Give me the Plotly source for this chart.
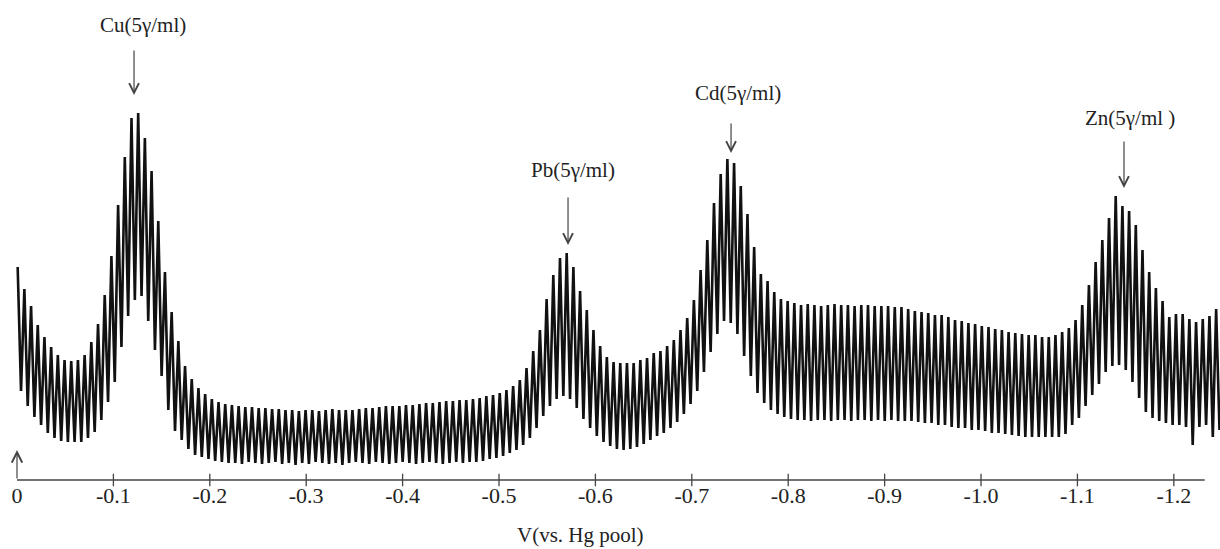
import plotly.graph_objects as go

# Polarogram: current at the top and bottom of every mercury drop (arbitrary units)
i_top = [
    21.3, 19.1, 17.4, 15.5, 14.3, 13.3, 12.5, 12.0, 11.9, 12.0,
    12.5, 13.8, 15.6, 18.5, 22.4, 27.5, 32.3, 36.2, 36.7, 34.2,
    30.9, 25.9, 20.8, 16.8, 13.9, 11.4, 10.1, 9.2, 8.6, 8.1,
    7.8, 7.6, 7.5, 7.4, 7.3, 7.3, 7.2, 7.2, 7.1, 7.1,
    7.0, 7.0, 6.9, 7.0, 7.0, 6.9, 7.0, 7.1, 7.0, 7.0,
    7.0, 7.1, 7.2, 7.2, 7.3, 7.4, 7.4, 7.4, 7.5, 7.5,
    7.6, 7.7, 7.7, 7.8, 7.9, 7.9, 8.0, 8.0, 8.1, 8.2,
    8.4, 8.5, 8.7, 9.0, 9.4, 10.0, 11.2, 12.9, 15.0, 18.1,
    20.5, 22.2, 22.7, 21.3, 18.9, 17.0, 15.0, 13.4, 12.3, 11.8,
    11.7, 11.7, 11.7, 12.0, 12.2, 12.7, 12.9, 13.4, 14.0, 15.0,
    16.2, 18.0, 21.0, 24.0, 27.7, 30.6, 32.1, 31.7, 29.4, 26.6,
    23.3, 20.6, 19.9, 18.8, 18.1, 17.9, 17.7, 17.5, 17.6, 17.5,
    17.4, 17.5, 17.6, 17.5, 17.5, 17.4, 17.5, 17.5, 17.4, 17.4,
    17.4, 17.3, 17.3, 17.1, 16.9, 16.8, 16.7, 16.5, 16.5, 16.3,
    16.0, 15.9, 15.7, 15.6, 15.4, 15.3, 15.1, 15.0, 14.8, 14.7,
    14.6, 14.5, 14.5, 14.3, 14.3, 14.5, 14.8, 15.2, 16.0, 17.5,
    19.5, 21.8, 24.0, 26.2, 28.4, 27.4, 26.9, 25.5, 23.0, 20.8,
    19.2, 17.9, 16.3, 16.6, 16.6, 16.1, 15.8, 16.1, 16.4, 17.1,
]
i_bottom = [
    8.9, 7.4, 6.3, 5.5, 4.7, 4.2, 3.9, 3.8, 3.8, 3.8,
    4.2, 4.8, 6.0, 7.8, 9.8, 13.3, 16.4, 18.0, 18.4, 15.9,
    13.0, 10.4, 7.0, 4.9, 4.0, 3.1, 2.5, 2.3, 2.1, 1.9,
    1.8, 1.7, 1.7, 1.6, 1.8, 1.7, 1.6, 1.7, 1.8, 1.6,
    1.7, 1.5, 1.7, 1.6, 1.8, 1.7, 1.6, 1.7, 1.5, 1.7,
    1.8, 1.7, 1.6, 1.8, 1.7, 1.6, 1.7, 1.8, 1.7, 1.6,
    1.7, 1.8, 1.7, 1.6, 1.7, 1.8, 1.7, 1.8, 1.8, 1.9,
    2.1, 2.2, 2.4, 2.7, 3.0, 3.5, 4.2, 5.2, 6.4, 7.4,
    8.1, 8.4, 8.1, 7.2, 6.1, 5.2, 4.4, 3.8, 3.4, 3.1,
    3.0, 3.1, 3.3, 3.6, 4.0, 4.4, 4.7, 5.2, 5.8, 6.6,
    7.6, 8.9, 10.8, 12.8, 14.6, 15.9, 15.7, 14.6, 12.4, 10.4,
    8.7, 7.7, 7.0, 6.6, 6.3, 6.1, 6.0, 6.0, 5.9, 6.0,
    6.0, 5.9, 6.0, 6.0, 5.9, 6.0, 6.0, 5.9, 6.0, 5.9,
    6.0, 5.9, 5.9, 5.9, 5.8, 5.7, 5.7, 5.5, 5.5, 5.3,
    5.2, 5.2, 5.0, 5.0, 4.9, 4.7, 4.7, 4.6, 4.5, 4.4,
    4.3, 4.3, 4.3, 4.3, 4.3, 4.3, 4.6, 5.5, 6.2, 7.4,
    8.5, 9.6, 10.8, 11.4, 11.5, 11.0, 9.8, 8.2, 6.8, 6.2,
    5.9, 5.7, 5.5, 5.5, 5.3, 3.5, 5.3, 5.5, 4.3, 5.0,
]

# potential of the first and last drop maximum (V vs. Hg pool)
V_FIRST = -0.0007
V_LAST = -1.2439
AXIS_END = -1.232

tick_vals = [0, -0.1, -0.2, -0.3, -0.4, -0.5, -0.6, -0.7, -0.8, -0.9, -1.0, -1.1, -1.2]
tick_text = ["0", "-0.1", "-0.2", "-0.3", "-0.4", "-0.5", "-0.6",
             "-0.7", "-0.8", "-0.9", "-1.0", "-1.1", "-1.2"]

peak_names = ["Cu(5γ/ml)", "Pb(5γ/ml)", "Cd(5γ/ml)", "Zn(5γ/ml )"]
peak_v = [-0.1214, -0.5716, -0.7407, -1.1483]

# sawtooth trace: each drop goes up to its maximum, then falls to its minimum
n = len(i_top)
step = (V_LAST - V_FIRST) / (n - 1)
xs, ys = [], []
for k in range(n):
    v = V_FIRST + k * step
    xs += [v, v + step / 2]
    ys += [i_top[k], i_bottom[k]]

SERIF = "Liberation Serif"
INK = "#222222"

fig = go.Figure()
fig.add_trace(go.Scatter(
    x=xs, y=ys, mode="lines",
    line=dict(color="#111111", width=2.6),
    hoverinfo="skip", showlegend=False,
))
# tick marks crossing the potential axis
fig.add_trace(go.Scatter(
    x=tick_vals[1:], y=[0] * (len(tick_vals) - 1), mode="markers",
    marker=dict(symbol="line-ns", size=9, line=dict(color="#444444", width=1.3)),
    hoverinfo="skip", showlegend=False,
))

# potential axis line
fig.add_shape(type="line", xref="x", yref="y", x0=0, x1=AXIS_END, y0=0, y1=0,
              line=dict(color="#444444", width=1.5))

annotations = []
# current direction arrow at the origin
annotations.append(dict(x=0, y=3.0, xref="x", yref="y", ax=0, ay=30, text="",
                        showarrow=True, arrowhead=5, arrowsize=1.7, arrowwidth=1.2,
                        arrowcolor="#444444"))

arrow_tip = [38.5, 23.5, 32.7, 29.2]
arrow_len = [46, 49, 31, 48]
label_v = [-0.1307, -0.5768, -0.7479, -1.1546]
label_y = [45.5, 31.0, 38.7, 36.2]
for name, v, tip, ln, lv, ly in zip(peak_names, peak_v, arrow_tip, arrow_len, label_v, label_y):
    annotations.append(dict(x=v, y=tip, xref="x", yref="y", ax=0, ay=-ln, text="",
                            showarrow=True, arrowhead=5, arrowsize=1.6, arrowwidth=1.2,
                            arrowcolor="#444444"))
    annotations.append(dict(x=lv, y=ly, xref="x", yref="y", text=name, showarrow=False,
                            font=dict(family=SERIF, size=21, color=INK),
                            xanchor="center", yanchor="middle"))

annotations.append(dict(x=-0.585, y=-5.5, xref="x", yref="y", text="V(vs. Hg pool)",
                        showarrow=False, font=dict(family=SERIF, size=21, color=INK),
                        xanchor="center", yanchor="middle"))

fig.update_layout(
    width=1220, height=549, autosize=False,
    margin=dict(l=0, r=0, t=0, b=0),
    paper_bgcolor="white", plot_bgcolor="white",
    annotations=annotations,
    xaxis=dict(
        range=[0.01763, -1.2479],
        tickvals=tick_vals, ticktext=tick_text,
        tickfont=dict(family=SERIF, size=22, color=INK),
        showgrid=False, zeroline=False, showline=False, ticks="",
        anchor="free", position=69 / 549,
    ),
    yaxis=dict(range=[-6.9, 48.0], visible=False, showgrid=False, zeroline=False),
)

fig.write_html("out.html")
